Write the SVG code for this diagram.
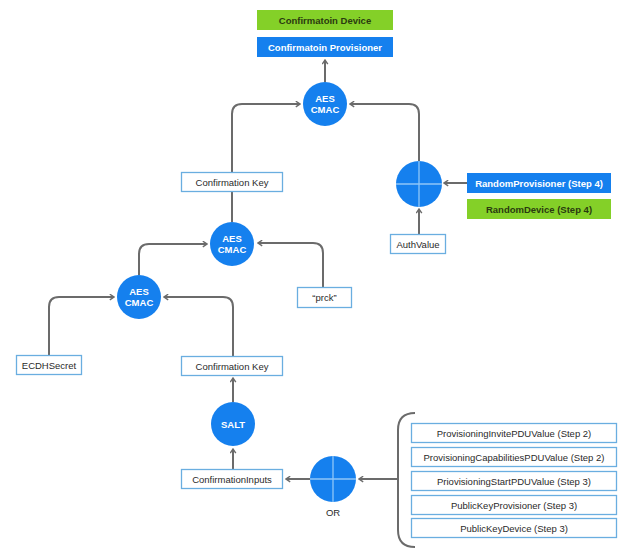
<svg xmlns="http://www.w3.org/2000/svg" width="640" height="557" viewBox="0 0 640 557">
<style>
.bx{fill:#fff;stroke:#6aaee0;stroke-width:1.3}
.bb{fill:#1580ee}
.bg{fill:#84d028}
.c{fill:#1580ee}
.t{font-family:"Liberation Sans",Arial,sans-serif;font-size:9.5px;fill:#2a2a2a;text-anchor:middle}
.tw{font-family:"Liberation Sans",Arial,sans-serif;font-size:9.5px;font-weight:bold;fill:#fff;text-anchor:middle}
.tg{font-family:"Liberation Sans",Arial,sans-serif;font-size:9.5px;font-weight:bold;fill:#2a3a10;text-anchor:middle}
.ln{fill:none;stroke:#6b6b6b;stroke-width:2}
.x{stroke:#8fc6f7;stroke-width:1.3}
</style>
<defs>
<marker id="a" viewBox="0 0 10 10" refX="8" refY="5" markerWidth="7" markerHeight="7" orient="auto" markerUnits="userSpaceOnUse">
<path d="M2,1 L8,5 L2,9" fill="none" stroke="#6b6b6b" stroke-width="2"/>
</marker>
</defs>
<rect width="640" height="557" fill="#fff"/>
<g id="connectors">
<path class="ln" d="M325,82 V60" marker-end="url(#a)"/>
<path class="ln" d="M232,172 V114 Q232,104 242,104 H300" marker-end="url(#a)"/>
<path class="ln" d="M419,162 V114 Q419,104 409,104 H350" marker-end="url(#a)"/>
<path class="ln" d="M232,222 V191"/>
<path class="ln" d="M323,287 V253 Q323,243 313,243 H258" marker-end="url(#a)"/>
<path class="ln" d="M139,275 V254 Q139,244 149,244 H207" marker-end="url(#a)"/>
<path class="ln" d="M49,355 V307 Q49,297 59,297 H114" marker-end="url(#a)"/>
<path class="ln" d="M233,356 V307 Q233,297 223,297 H164" marker-end="url(#a)"/>
<path class="ln" d="M233,402 V378" marker-end="url(#a)"/>
<path class="ln" d="M233,469 V449" marker-end="url(#a)"/>
<path class="ln" d="M311,479 H286" marker-end="url(#a)"/>
<path class="ln" d="M398,479 H359" marker-end="url(#a)"/>
<path class="ln" d="M467,183 H444" marker-end="url(#a)"/>
<path class="ln" d="M419,234 V209" marker-end="url(#a)"/>
<path class="ln" d="M415,413 Q398,413 398,430 V530 Q398,547 415,547" stroke-width="1.6"/>
</g>
<g id="confDevice"><rect class="bg" x="257" y="10" width="136" height="20"/><text class="tg" x="325" y="23.5">Confirmatoin Device</text></g>
<g id="confProvisioner"><rect class="bb" x="257" y="37" width="136" height="20"/><text class="tw" x="325" y="50.5">Confirmatoin Provisioner</text></g>
<g id="cmacTop"><circle class="c" cx="325" cy="104" r="22"/><text class="tw" x="325" y="102">AES</text><text class="tw" x="325" y="113">CMAC</text></g>
<g id="confKey1"><rect class="bx" x="181.5" y="172.5" width="101" height="19"/><text class="t" x="232" y="185.5">Confirmation Key</text></g>
<g id="xor"><circle class="c" cx="419" cy="184" r="23"/><line class="x" x1="396" y1="184" x2="442" y2="184"/><line class="x" x1="419" y1="161" x2="419" y2="207"/></g>
<g id="randProv"><rect class="bb" x="467" y="173" width="144" height="20"/><text class="tw" x="539" y="186.5">RandomProvisioner (Step 4)</text></g>
<g id="randDev"><rect class="bg" x="467" y="199" width="144" height="20"/><text class="tg" x="539" y="212.5">RandomDevice (Step 4)</text></g>
<g id="authValue"><rect class="bx" x="390.5" y="234.5" width="55" height="19"/><text class="t" x="418" y="247.5">AuthValue</text></g>
<g id="cmacMid"><circle class="c" cx="232" cy="244" r="22"/><text class="tw" x="232" y="242">AES</text><text class="tw" x="232" y="253">CMAC</text></g>
<g id="prck"><rect class="bx" x="297.5" y="287.5" width="54" height="20"/><text class="t" x="324.5" y="301">“prck”</text></g>
<g id="cmacLow"><circle class="c" cx="139" cy="297" r="22"/><text class="tw" x="139" y="295">AES</text><text class="tw" x="139" y="306">CMAC</text></g>
<g id="ecdh"><rect class="bx" x="16.5" y="355.5" width="65" height="19"/><text class="t" x="49" y="368.5">ECDHSecret</text></g>
<g id="confKey2"><rect class="bx" x="181.5" y="356.5" width="101" height="19"/><text class="t" x="232" y="369.5">Confirmation Key</text></g>
<g id="salt"><circle class="c" cx="233" cy="424" r="22"/><text class="tw" x="233" y="427.5">SALT</text></g>
<g id="confInputs"><rect class="bx" x="181.5" y="469.5" width="101" height="19"/><text class="t" x="232" y="482.5">ConfirmationInputs</text></g>
<g id="or"><circle class="c" cx="333" cy="479" r="23"/><line class="x" x1="310" y1="479" x2="356" y2="479"/><line class="x" x1="333" y1="456" x2="333" y2="502"/><text class="t" x="333" y="516">OR</text></g>
<g id="in1"><rect class="bx" x="411.5" y="423.5" width="205" height="19"/><text class="t" x="514" y="436.5">ProvisioningInvitePDUValue (Step 2)</text></g>
<g id="in2"><rect class="bx" x="411.5" y="447.5" width="205" height="19"/><text class="t" x="514" y="460.5">ProvisioningCapabilitiesPDUValue (Step 2)</text></g>
<g id="in3"><rect class="bx" x="411.5" y="471.5" width="205" height="19"/><text class="t" x="514" y="484.5">PriovisioningStartPDUValue (Step 3)</text></g>
<g id="in4"><rect class="bx" x="411.5" y="495.5" width="205" height="19"/><text class="t" x="514" y="508.5">PublicKeyProvisioner (Step 3)</text></g>
<g id="in5"><rect class="bx" x="411.5" y="518.5" width="205" height="19"/><text class="t" x="514" y="531.5">PublicKeyDevice (Step 3)</text></g>
</svg>
